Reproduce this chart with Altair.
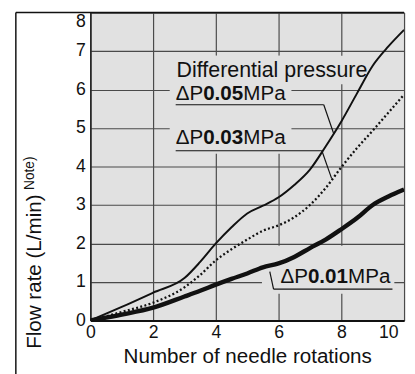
import altair as alt
import pandas as pd

# ---- data ----
rotations = [0, 1, 2, 3, 3.5, 4, 4.5, 5, 5.5, 6, 6.5, 7, 7.5, 8, 8.5, 9, 9.5, 10]
flow_005 = [0, 0.35, 0.72, 1.1, 1.52, 2.0, 2.42, 2.78, 2.98, 3.2, 3.52, 3.92, 4.52, 5.17, 5.9, 6.62, 7.12, 7.55]
flow_003 = [0, 0.22, 0.46, 0.86, 1.18, 1.56, 1.85, 2.1, 2.33, 2.47, 2.68, 3.0, 3.44, 3.98, 4.48, 4.93, 5.4, 5.87]
flow_001 = [0, 0.15, 0.33, 0.62, 0.77, 0.93, 1.08, 1.22, 1.38, 1.48, 1.65, 1.88, 2.1, 2.37, 2.66, 3.0, 3.22, 3.4]

x_ticks = [0, 2, 4, 6, 8, 10]
y_ticks = [0, 1, 2, 3, 4, 5, 6, 7, 8]

pressure_values = ["0.05", "0.03", "0.01"]
header_text = "Differential pressure"
x_title = "Number of needle rotations"
y_title = "Flow rate (L/min)"
y_note = "Note)"

# annotation layout (data units)
label_x = [2.72, 2.72, 6.06]
label_y = [5.73, 4.59, 0.97]
header_xy = [2.75, 6.32]
box_x = [2.53, 2.53, 5.47]
box_x2 = [6.41, 8.75, 9.69]
box_y = [4.33, 6.14, 0.69]
box_y2 = [6.88, 6.88, 1.94]
seg_x = [2.72, 7.44, 2.72, 7.38, 5.84, 5.84]
seg_x2 = [7.44, 7.75, 7.38, 7.69, 9.63, 5.72]
seg_y = [5.605, 5.605, 4.41, 4.41, 0.815, 0.815]
seg_y2 = [5.605, 4.87, 4.41, 3.69, 0.815, 1.27]

FONT = "Liberation Sans"
W, H = 320, 314

xs = alt.Scale(domain=[0, 10], nice=False, zero=False)
ys = alt.Scale(domain=[0, 8], nice=False, zero=False)

df = pd.DataFrame({"x": rotations, "p05": flow_005, "p03": flow_003, "p01": flow_001})

x_axis = alt.Axis(
    values=x_ticks, grid=True, ticks=False, domain=True, domainColor="#111", domainWidth=2,
    gridColor="#4a4a4a", gridWidth=1.2, labelFont=FONT, labelFontSize=18, labelColor="#111",
    labelPadding=3, labelFlush=False, labelOverlap=False,
    labelOffset=alt.condition("datum.value == 10", alt.value(-16), alt.value(0)),
    title=x_title, titleFont=FONT, titleFontSize=21, titleFontWeight="normal", titleColor="#111",
    titleBaseline="alphabetic", titleY=43,
)
y_axis = alt.Axis(
    values=y_ticks, tickCount=9, grid=True, ticks=False, domain=True, domainColor="#222", domainWidth=1.5,
    gridColor="#4a4a4a", gridWidth=1.2, labelFont=FONT, labelFontSize=18, labelColor="#111",
    labelPadding=5, labelFlush=False, labelOverlap=False,
    labelBaseline=alt.condition("datum.value == 8", alt.value("top"), alt.value("middle")),
    title=None,
)

X = lambda f: alt.X(f, scale=xs, axis=x_axis)
Y = lambda f: alt.Y(f, scale=ys, axis=y_axis)

boxes = alt.Chart(pd.DataFrame({"x": box_x, "x2": box_x2, "y": box_y, "y2": box_y2})).mark_rect(
    color="#e1e1e1"
).encode(x=X("x:Q"), x2="x2:Q", y=Y("y:Q"), y2="y2:Q")

def line(col, **kw):
    return alt.Chart(df).mark_line(interpolate="monotone", color="#111", clip=True, **kw).encode(
        x=X("x:Q"), y=Y(f"{col}:Q")
    )

l05 = line("p05", strokeWidth=2)
l03 = line("p03", strokeWidth=2.3, strokeDash=[2, 2.4])
l01 = line("p01", strokeWidth=4.5)

segs = alt.Chart(pd.DataFrame({"x": seg_x, "x2": seg_x2, "y": seg_y, "y2": seg_y2})).mark_rule(
    color="#111", strokeWidth=1.2
).encode(x=X("x:Q"), x2="x2:Q", y=Y("y:Q"), y2="y2:Q")

lab_df = pd.DataFrame({"x": label_x, "y": label_y, "v": pressure_values,
                       "d": ["\u0394P"] * 3, "u": ["MPa"] * 3})

def lab(field, dx, weight):
    return alt.Chart(lab_df).mark_text(
        align="left", baseline="alphabetic", font=FONT, fontSize=21, fontWeight=weight,
        color="#111", dx=dx
    ).encode(x=X("x:Q"), y=Y("y:Q"), text=f"{field}:N")

t_d = lab("d", 0, "normal")
t_v = lab("v", 28, "bold")
t_u = lab("u", 69, "normal")

header = alt.Chart(pd.DataFrame({"x": [header_xy[0]], "y": [header_xy[1]], "t": [header_text]})).mark_text(
    align="left", baseline="alphabetic", font=FONT, fontSize=21.8, color="#111"
).encode(x=X("x:Q"), y=Y("y:Q"), text="t:N")

ytitle = alt.Chart(pd.DataFrame({"t": [y_title]})).mark_text(
    align="left", baseline="middle", angle=270, font=FONT, fontSize=21, color="#111"
).encode(x=alt.value(-56), y=alt.value(343), text="t:N")

ynote = alt.Chart(pd.DataFrame({"t": [y_note]})).mark_text(
    align="left", baseline="middle", angle=270, font=FONT, fontSize=14, color="#111"
).encode(x=alt.value(-61), y=alt.value(181), text="t:N")

frame_top = alt.Chart(pd.DataFrame({"a": [0]})).mark_rule(color="#111", strokeWidth=1.5).encode(
    x=alt.value(-76), x2=alt.value(W), y=alt.value(0)
)
frame_left = alt.Chart(pd.DataFrame({"a": [0]})).mark_rule(color="#111", strokeWidth=1.5).encode(
    x=alt.value(-76), y=alt.value(0), y2=alt.value(380)
)

chart = alt.layer(
    boxes, l05, l03, l01, segs, t_d, t_v, t_u, header, ytitle, ynote, frame_top, frame_left
).properties(
    width=W, height=H,
    autosize=alt.AutoSizeParams(type="none"),
    padding={"left": 84, "top": 1, "right": 3, "bottom": 51},
    background="white",
).configure_view(
    fill="#e1e1e1", stroke="#777", strokeWidth=1
)

chart.save("out.html", embed_options={"renderer": "svg", "actions": False})
